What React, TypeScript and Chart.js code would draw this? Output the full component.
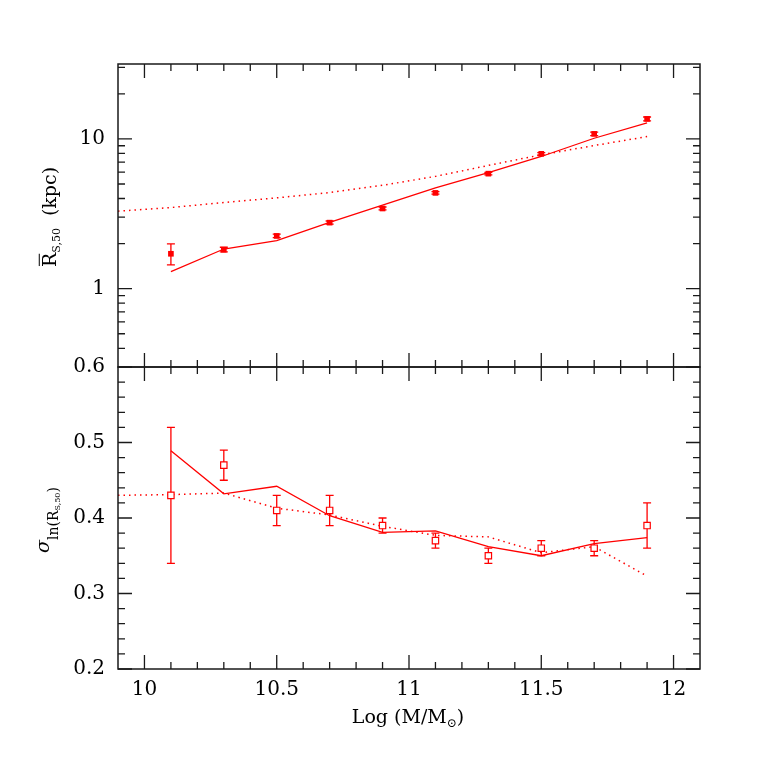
import React, { useEffect, useRef } from 'react';
import { Chart, registerables } from 'chart.js';

Chart.register(...registerables);

// ---------- data ----------
const massBins = [10.1, 10.3, 10.5, 10.7, 10.9, 11.1, 11.3, 11.5, 11.7, 11.9];
const radiusObs = [1.71, 1.82, 2.25, 2.76, 3.43, 4.36, 5.86, 7.95, 10.8, 13.6];
const radiusObsLo = [1.44, 1.76, 2.19, 2.70, 3.36, 4.28, 5.76, 7.80, 10.5, 13.2];
const radiusObsHi = [1.99, 1.89, 2.31, 2.83, 3.51, 4.45, 5.97, 8.10, 11.1, 14.0];
const radiusModel = [1.30, 1.84, 2.09, 2.77, 3.61, 4.71, 5.95, 7.63, 10.1, 12.8];
const altMass = [9.9, 10.1, 10.3, 10.5, 10.7, 10.9, 11.1, 11.3, 11.5, 11.7, 11.9];
const radiusAlt = [3.29, 3.48, 3.76, 4.04, 4.38, 4.90, 5.62, 6.65, 7.83, 9.03, 10.36];

const sigmaObs = [0.43, 0.47, 0.41, 0.41, 0.39, 0.37, 0.35, 0.36, 0.36, 0.39];
const sigmaObsLo = [0.34, 0.45, 0.39, 0.39, 0.38, 0.36, 0.34, 0.35, 0.35, 0.36];
const sigmaObsHi = [0.52, 0.49, 0.43, 0.43, 0.40, 0.38, 0.36, 0.37, 0.37, 0.42];
const sigmaModel = [0.489, 0.432, 0.442, 0.403, 0.381, 0.383, 0.362, 0.350, 0.366, 0.374];
const sigmaAlt = [0.430, 0.431, 0.433, 0.413, 0.404, 0.389, 0.377, 0.375, 0.354, 0.362, 0.323];

// ---------- ticks ----------
const xLabelTicks = [10, 10.5, 11, 11.5, 12];
const xMinorTicks = [10.1, 10.2, 10.3, 10.4, 10.6, 10.7, 10.8, 10.9, 11.1, 11.2, 11.3, 11.4, 11.6, 11.7, 11.8, 11.9];
const topLabelTicks = [1, 10];
const topMinorTicks = [0.4, 0.5, 0.6, 0.7, 0.8, 0.9, 2, 3, 4, 5, 6, 7, 8, 9, 20, 30];
const botLabelTicks = [0.2, 0.3, 0.4, 0.5, 0.6];
const botMinorTicks = [0.22, 0.24, 0.26, 0.28, 0.32, 0.34, 0.36, 0.38, 0.42, 0.44, 0.46, 0.48, 0.52, 0.54, 0.56, 0.58];

// ---------- layout ----------
const W = 763;
const H = 763;
const LEFT = 118;
const RIGHT = 700;
const TOP = 64;
const MID = 367;
const BOTTOM = 669;
const FONT = '"DejaVu Serif", serif';
const RED = '#ff0000';
const FRAME = '#1a1a1a';

const zip = (xs: number[], ys: number[]) => xs.map((x, i) => ({ x, y: ys[i] }));

type Run = { text: string; size: number; dy: number; italic?: boolean; overline?: boolean; gap?: number };

function runsWidth(ctx: CanvasRenderingContext2D, runs: Run[]) {
  let w = 0;
  for (const r of runs) {
    ctx.font = `${r.italic ? 'italic ' : ''}${r.size}px ${FONT}`;
    w += (r.gap || 0) + ctx.measureText(r.text).width;
  }
  return w;
}

function drawRuns(ctx: CanvasRenderingContext2D, runs: Run[], x: number, y: number) {
  let cx = x;
  ctx.textBaseline = 'alphabetic';
  ctx.textAlign = 'left';
  for (const r of runs) {
    ctx.font = `${r.italic ? 'italic ' : ''}${r.size}px ${FONT}`;
    cx += r.gap || 0;
    ctx.fillText(r.text, cx, y + r.dy);
    const w = ctx.measureText(r.text).width;
    if (r.overline) {
      ctx.beginPath();
      ctx.lineWidth = 1;
      ctx.moveTo(cx + 1, y + r.dy - r.size * 0.88);
      ctx.lineTo(cx + w - 1, y + r.dy - r.size * 0.88);
      ctx.stroke();
    }
    cx += w;
  }
}

function framePlugin(yMajor: number[], yMinor: number[]) {
  return {
    id: 'frameTicks',
    afterDatasetsDraw(chart: any) {
      const { ctx, chartArea: a, scales } = chart;
      const xs = scales.x;
      const ys = scales.y;
      ctx.save();
      ctx.strokeStyle = FRAME;
      ctx.lineWidth = 1.5;
      ctx.strokeRect(a.left, a.top, a.right - a.left, a.bottom - a.top);
      ctx.lineWidth = 1.3;
      ctx.beginPath();
      const xt = [...xLabelTicks.map((v) => [v, 14]), ...xMinorTicks.map((v) => [v, 7])];
      for (const [v, len] of xt) {
        const px = xs.getPixelForValue(v);
        ctx.moveTo(px, a.bottom);
        ctx.lineTo(px, a.bottom - len);
        ctx.moveTo(px, a.top);
        ctx.lineTo(px, a.top + len);
      }
      const yt = [...yMajor.map((v) => [v, 14]), ...yMinor.map((v) => [v, 7])];
      for (const [v, len] of yt) {
        const py = ys.getPixelForValue(v);
        ctx.moveTo(a.left, py);
        ctx.lineTo(a.left + len, py);
        ctx.moveTo(a.right, py);
        ctx.lineTo(a.right - len, py);
      }
      ctx.stroke();
      ctx.restore();
    },
  };
}

const errorBarPlugin = {
  id: 'errorBars',
  beforeDatasetsDraw(chart: any) {
    const { ctx, scales } = chart;
    const xs = scales.x;
    const ys = scales.y;
    ctx.save();
    ctx.strokeStyle = RED;
    ctx.lineWidth = 1.3;
    chart.data.datasets.forEach((ds: any) => {
      if (!ds.errLo) return;
      ds.data.forEach((p: any, i: number) => {
        const px = xs.getPixelForValue(p.x);
        const lo = ys.getPixelForValue(ds.errLo[i]);
        const hi = ys.getPixelForValue(ds.errHi[i]);
        ctx.beginPath();
        ctx.moveTo(px, lo);
        ctx.lineTo(px, hi);
        ctx.moveTo(px - 4, lo);
        ctx.lineTo(px + 4, lo);
        ctx.moveTo(px - 4, hi);
        ctx.lineTo(px + 4, hi);
        ctx.stroke();
      });
    });
    ctx.restore();
  },
};

const topTitlePlugin = {
  id: 'topTitle',
  afterDraw(chart: any) {
    const ctx = chart.ctx;
    ctx.save();
    ctx.fillStyle = '#000';
    ctx.strokeStyle = '#000';
    const runs: Run[] = [
      { text: 'R', size: 19, dy: 0, overline: true },
      { text: 'S,50', size: 11, dy: 4 },
      { text: '(kpc)', size: 19, dy: 0, gap: 12 },
    ];
    const w = runsWidth(ctx, runs);
    ctx.translate(56, 217);
    ctx.rotate(-Math.PI / 2);
    drawRuns(ctx, runs, -w / 2, 0);
    ctx.restore();
  },
};

const bottomTitlesPlugin = {
  id: 'bottomTitles',
  afterDraw(chart: any) {
    const ctx = chart.ctx;
    ctx.save();
    ctx.fillStyle = '#000';
    ctx.strokeStyle = '#000';
    const sRuns: Run[] = [
      { text: 'σ', size: 19, dy: 0, italic: true },
      { text: 'ln(R', size: 14, dy: 9 },
      { text: 'S,50', size: 8, dy: 11 },
      { text: ')', size: 14, dy: 9 },
    ];
    const sw = runsWidth(ctx, sRuns);
    ctx.save();
    ctx.translate(49, 520);
    ctx.rotate(-Math.PI / 2);
    drawRuns(ctx, sRuns, -sw / 2, 0);
    ctx.restore();

    const xRuns: Run[] = [
      { text: 'Log (M/M', size: 19, dy: 0 },
      { text: '⊙', size: 12, dy: 4 },
      { text: ')', size: 19, dy: 0 },
    ];
    const xw = runsWidth(ctx, xRuns);
    drawRuns(ctx, xRuns, 408 - xw / 2, 723);
    ctx.restore();
  },
};

const tickFont = { family: FONT, size: 20 };

function baseOptions() {
  return {
    animation: false as const,
    responsive: false,
    devicePixelRatio: 1,
    events: [] as any[],
    plugins: { legend: { display: false }, tooltip: { enabled: false } },
  };
}

export default function App() {
  const topRef = useRef<HTMLCanvasElement>(null);
  const botRef = useRef<HTMLCanvasElement>(null);

  useEffect(() => {
    const topChart = new Chart(topRef.current as HTMLCanvasElement, {
      type: 'scatter',
      data: {
        datasets: [
          {
            data: zip(massBins, radiusObs),
            errLo: radiusObsLo,
            errHi: radiusObsHi,
            pointStyle: 'rect',
            pointRadius: 4,
            backgroundColor: RED,
            borderColor: RED,
            borderWidth: 0,
            showLine: false,
          } as any,
          {
            data: zip(massBins, radiusModel),
            showLine: true,
            pointRadius: 0,
            borderColor: RED,
            borderWidth: 1.3,
          },
          {
            data: zip(altMass, radiusAlt),
            showLine: true,
            pointRadius: 0,
            borderColor: RED,
            borderWidth: 1.5,
            borderDash: [1.5, 4],
          },
        ],
      },
      options: {
        ...baseOptions(),
        layout: { padding: { left: 0, right: W - RIGHT, top: TOP, bottom: H - MID } },
        scales: {
          x: { type: 'linear', min: 9.9, max: 12.1, display: false },
          y: {
            type: 'logarithmic',
            position: 'left',
            min: Math.pow(10, -0.5),
            max: Math.pow(10, 1.5),
            grid: { display: false, drawTicks: false },
            border: { display: false },
            ticks: { padding: 13, font: tickFont, color: '#000', callback: (v: any) => String(v) },
            afterBuildTicks: (s: any) => {
              s.ticks = topLabelTicks.map((value) => ({ value }));
            },
            afterFit: (s: any) => {
              s.width = LEFT;
            },
          },
        },
      } as any,
      plugins: [errorBarPlugin, framePlugin(topLabelTicks, topMinorTicks), topTitlePlugin],
    });

    const botChart = new Chart(botRef.current as HTMLCanvasElement, {
      type: 'scatter',
      data: {
        datasets: [
          {
            data: zip(massBins, sigmaObs),
            errLo: sigmaObsLo,
            errHi: sigmaObsHi,
            pointStyle: 'rect',
            pointRadius: 4.5,
            backgroundColor: '#ffffff',
            borderColor: RED,
            borderWidth: 1.2,
            showLine: false,
          } as any,
          {
            data: zip(massBins, sigmaModel),
            showLine: true,
            pointRadius: 0,
            borderColor: RED,
            borderWidth: 1.3,
          },
          {
            data: zip(altMass, sigmaAlt),
            showLine: true,
            pointRadius: 0,
            borderColor: RED,
            borderWidth: 1.5,
            borderDash: [1.5, 4],
          },
        ],
      },
      options: {
        ...baseOptions(),
        layout: { padding: { left: 0, right: W - RIGHT, top: MID, bottom: H - BOTTOM - 70 } },
        scales: {
          x: {
            type: 'linear',
            min: 9.9,
            max: 12.1,
            position: 'bottom',
            grid: { display: false, drawTicks: false },
            border: { display: false },
            ticks: { padding: 9, font: tickFont, color: '#000', maxRotation: 0, callback: (v: any) => String(v) },
            afterBuildTicks: (s: any) => {
              s.ticks = xLabelTicks.map((value) => ({ value }));
            },
            afterFit: (s: any) => {
              s.height = 70;
            },
          },
          y: {
            type: 'linear',
            position: 'left',
            min: 0.2,
            max: 0.6,
            grid: { display: false, drawTicks: false },
            border: { display: false },
            ticks: { padding: 13, font: tickFont, color: '#000', callback: (v: any) => Number(v).toFixed(1) },
            afterBuildTicks: (s: any) => {
              s.ticks = botLabelTicks.map((value) => ({ value }));
            },
            afterFit: (s: any) => {
              s.width = LEFT;
            },
          },
        },
      } as any,
      plugins: [errorBarPlugin, framePlugin(botLabelTicks, botMinorTicks), bottomTitlesPlugin],
    });

    return () => {
      topChart.destroy();
      botChart.destroy();
    };
  }, []);

  return (
    <div style={{ position: 'fixed', left: 0, top: 0, width: W, height: H, background: '#fff' }}>
      <canvas ref={botRef} width={W} height={H} style={{ position: 'absolute', left: 0, top: 0 }} />
      <canvas ref={topRef} width={W} height={H} style={{ position: 'absolute', left: 0, top: 0 }} />
    </div>
  );
}
